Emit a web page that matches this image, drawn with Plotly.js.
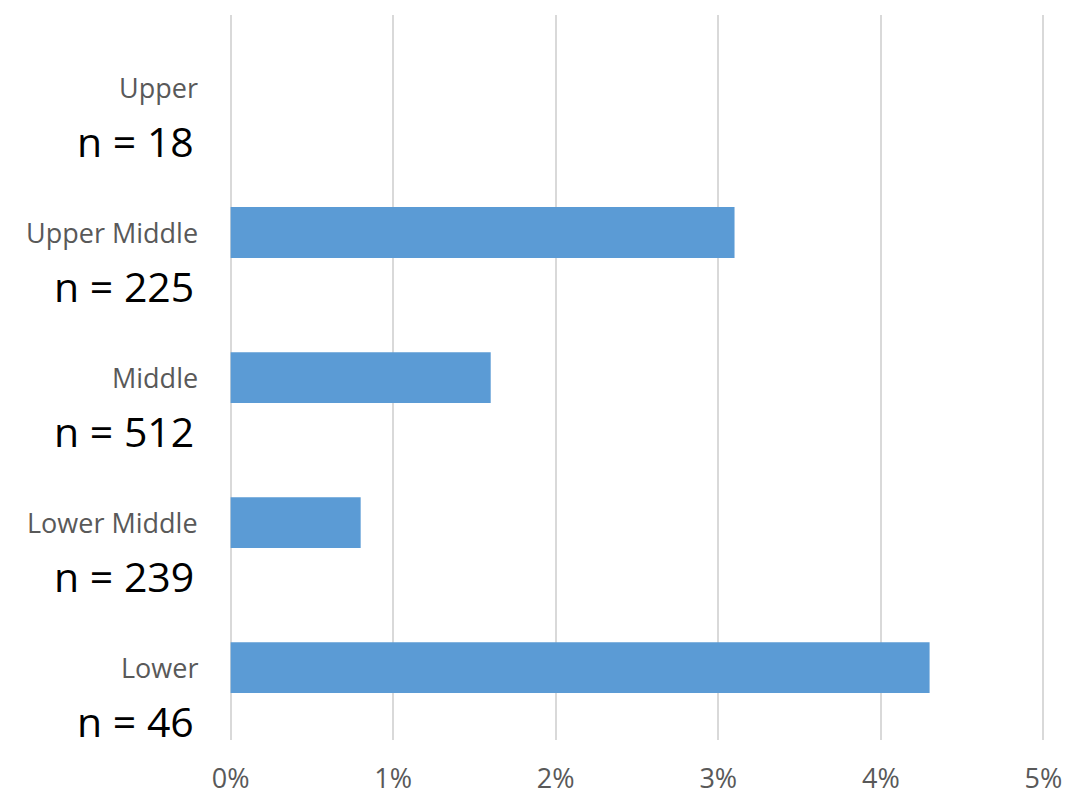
<!DOCTYPE html>
<html>
<head>
<meta charset="utf-8">
<script src="https://cdn.plot.ly/plotly-3.0.1.min.js"></script>
<style>html,body{margin:0;padding:0;background:#fff;}#chart{width:1081px;height:796px;}</style>
</head>
<body>
<div id="chart"></div>
<script>
const categories = ["Lower", "Lower Middle", "Middle", "Upper Middle", "Upper"];
const counts = ["n = 46", "n = 239", "n = 512", "n = 225", "n = 18"];
const values = [0.043, 0.008, 0.016, 0.031, 0];
const tickVals = [0, 0.01, 0.02, 0.03, 0.04, 0.05];
const tickLabels = ["0%", "1%", "2%", "3%", "4%", "5%"];

const font = "'Open Sans', 'Noto Sans', sans-serif";
const annotations = [];
categories.forEach((c, i) => {
  annotations.push({
    xref: 'paper', yref: 'y', x: 0, y: c, xanchor: 'right', yanchor: 'middle',
    xshift: -29, yshift: 0, showarrow: false, text: c,
    font: {family: font, size: 27, color: '#595959'}
  });
  annotations.push({
    xref: 'paper', yref: 'y', x: 0, y: c, xanchor: 'right', yanchor: 'middle',
    xshift: -33, yshift: -53, showarrow: false, text: counts[i],
    font: {family: font, size: 41, color: '#000000'}
  });
});

Plotly.newPlot('chart', [{
  type: 'bar', orientation: 'h', y: categories, x: values,
  marker: {color: '#5B9BD5'}, width: 0.35, hoverinfo: 'skip'
}], {
  width: 1081, height: 796,
  margin: {l: 229, r: 36, t: 15, b: 56},
  paper_bgcolor: '#ffffff', plot_bgcolor: '#ffffff',
  showlegend: false,
  xaxis: {
    range: [-0.0001, 0.0501], tickvals: tickVals, ticktext: tickLabels,
    showgrid: true, gridcolor: '#d9d9d9', gridwidth: 2,
    zeroline: false, showline: false, ticks: '',
    ticklabelstandoff: 20,
    tickfont: {family: font, size: 27, color: '#595959'}
  },
  yaxis: {
    type: 'category', categoryorder: 'array', categoryarray: categories,
    range: [-0.5, 4.5], showticklabels: false, showgrid: false,
    zeroline: false, showline: false, ticks: ''
  },
  annotations: annotations
}, {staticPlot: true});
</script>
</body>
</html>
